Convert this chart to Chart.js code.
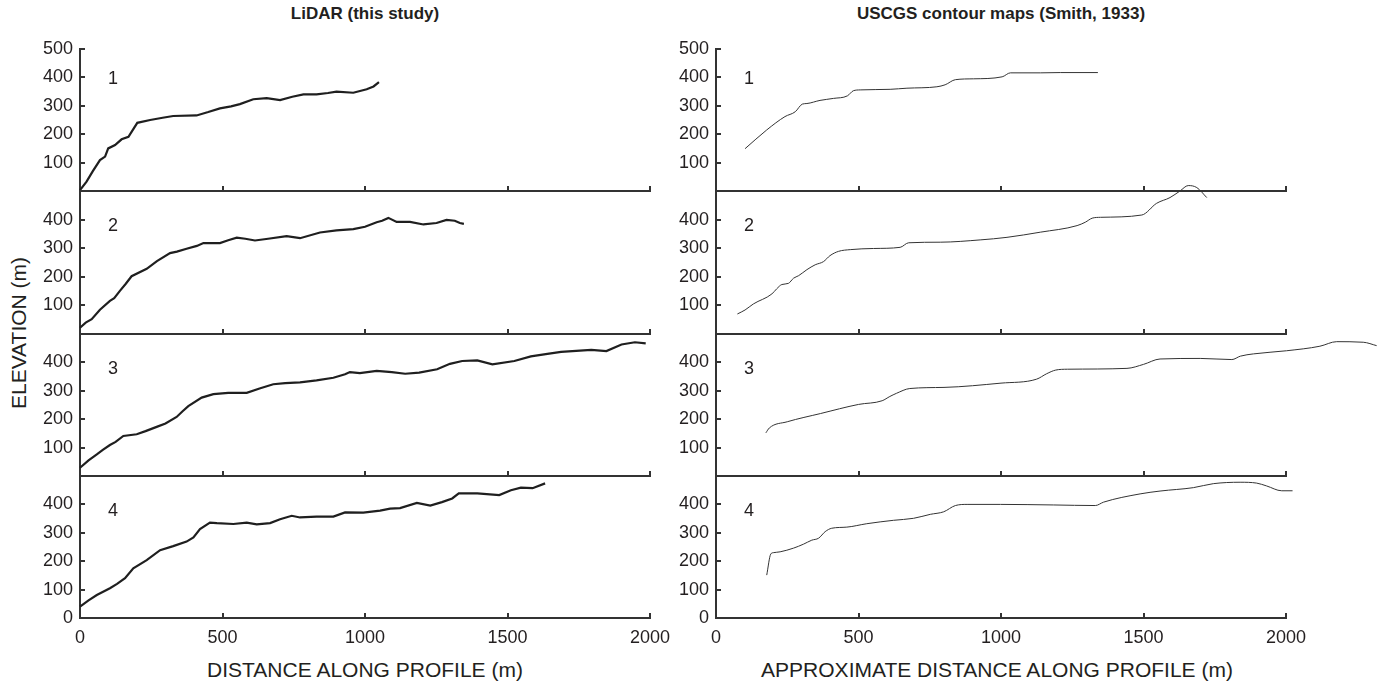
<!DOCTYPE html>
<html>
<head>
<meta charset="utf-8">
<script src="https://cdn.jsdelivr.net/npm/chart.js@4.4.0/dist/chart.umd.min.js"></script>
<style>
  html, body { margin: 0; padding: 0; background: #fff; }
  #wrap { position: relative; width: 1383px; height: 684px; overflow: hidden;
          font-family: "Liberation Sans", Arial, sans-serif; color: #231f20; }
  #wrap canvas { position: absolute; left: 0; top: 0; }
  .txt { position: absolute; white-space: nowrap; transform: translate(-50%, -50%); }
  .title { font-weight: bold; font-size: 17px; top: 14px; }
  .xtitle { font-size: 21px; top: 670px; }
  .ytitle { font-size: 21px; left: 19px; top: 333px; transform: translate(-50%, -50%) rotate(-90deg); }
</style>
</head>
<body>
<div id="wrap">
  <div class="txt title" style="left:365px">LiDAR (this study)</div>
  <div class="txt title" style="left:1001px">USCGS contour maps (Smith, 1933)</div>
  <div class="txt xtitle" style="left:365px">DISTANCE ALONG PROFILE (m)</div>
  <div class="txt xtitle" style="left:997px">APPROXIMATE DISTANCE ALONG PROFILE (m)</div>
  <div class="txt ytitle">ELEVATION (m)</div>
</div>
<script>
// Profile data (distance m, elevation m)
const lidar1Dist = [0, 23, 45, 70, 88, 99, 123, 146, 170, 201, 246, 290, 327, 409, 450, 491, 530, 561, 608, 655, 702, 745, 784, 830, 870, 900, 959, 1006, 1030, 1049];
const lidar1Elev = [3, 33, 70, 109, 121, 150, 162, 182, 191, 240, 250, 258, 264, 266, 278, 291, 298, 306, 323, 327, 320, 332, 340, 340, 345, 350, 346, 358, 368, 383];

const lidar2Dist = [0, 20, 41, 70, 105, 120, 140, 160, 181, 234, 270, 316, 340, 374, 410, 433, 491, 520, 550, 580, 614, 660, 725, 772, 842, 900, 959, 1000, 1041, 1060, 1082, 1111, 1158, 1205, 1251, 1286, 1315, 1333, 1347];
const lidar2Elev = [22, 40, 52, 85, 116, 125, 151, 175, 202, 228, 255, 283, 288, 298, 308, 318, 318, 328, 337, 333, 327, 333, 342, 335, 355, 362, 367, 375, 391, 396, 406, 392, 392, 383, 388, 399, 396, 388, 385];

const lidar3Dist = [0, 30, 59, 80, 105, 125, 152, 199, 230, 269, 300, 339, 360, 380, 427, 468, 520, 585, 630, 678, 720, 772, 830, 889, 930, 947, 982, 1041, 1094, 1141, 1190, 1253, 1298, 1341, 1394, 1447, 1524, 1582, 1640, 1688, 1794, 1847, 1900, 1947, 1985];
const lidar3Elev = [29, 55, 76, 92, 109, 120, 141, 147, 158, 173, 185, 208, 228, 246, 276, 288, 293, 293, 308, 323, 327, 330, 337, 346, 358, 366, 362, 370, 366, 360, 364, 376, 395, 405, 407, 393, 405, 421, 430, 437, 444, 440, 463, 471, 467];

const lidar4Dist = [0, 30, 59, 105, 130, 158, 187, 234, 281, 327, 374, 398, 421, 456, 480, 538, 585, 620, 667, 702, 743, 772, 830, 889, 930, 994, 1053, 1088, 1123, 1182, 1229, 1270, 1306, 1329, 1394, 1471, 1512, 1547, 1588, 1632];
const lidar4Elev = [40, 62, 81, 105, 120, 140, 175, 204, 239, 253, 269, 284, 313, 336, 334, 331, 336, 330, 334, 348, 360, 354, 357, 357, 372, 371, 378, 385, 387, 405, 396, 408, 421, 439, 439, 433, 450, 459, 457, 474];

const usgs1Dist = [102, 178, 242, 278, 303, 319, 365, 412, 461, 482, 506, 611, 670, 775, 804, 840, 904, 1004, 1033, 1138, 1208, 1340];
const usgs1Elev = [149, 215, 262, 279, 306, 308, 319, 326, 335, 353, 356, 358, 362, 367, 374, 392, 395, 402, 416, 416, 417, 417];

const usgs2Dist = [75, 102, 131, 196, 213, 231, 254, 272, 290, 319, 348, 377, 400, 430, 471, 553, 646, 676, 787, 927, 1021, 1138, 1267, 1296, 1320, 1349, 1494, 1546, 1593, 1628, 1657, 1687, 1722];
const usgs2Elev = [70, 84, 105, 140, 158, 173, 177, 195, 204, 225, 242, 253, 274, 289, 295, 299, 303, 319, 321, 329, 338, 356, 379, 391, 405, 408, 416, 457, 477, 500, 519, 512, 477];

const usgs3Dist = [175, 187, 250, 367, 500, 583, 610, 633, 680, 800, 1000, 1125, 1160, 1192, 1233, 1442, 1500, 1558, 1699, 1810, 1840, 1886, 2002, 2119, 2178, 2271, 2318];
const usgs3Elev = [152, 169, 191, 220, 252, 265, 280, 291, 308, 312, 327, 341, 360, 373, 376, 379, 393, 412, 414, 410, 422, 430, 441, 457, 473, 471, 459];

const usgs4Dist = [178, 192, 201, 225, 272, 307, 336, 360, 383, 406, 459, 529, 623, 693, 752, 799, 840, 881, 998, 1185, 1331, 1360, 1488, 1558, 1675, 1745, 1839, 1897, 1932, 1985, 2023];
const usgs4Elev = [151, 225, 230, 233, 246, 260, 274, 281, 304, 316, 320, 332, 344, 351, 365, 374, 396, 400, 400, 398, 396, 408, 437, 447, 459, 473, 478, 475, 465, 448, 448];

const lidarDist = [lidar1Dist, lidar2Dist, lidar3Dist, lidar4Dist];
const lidarElev = [lidar1Elev, lidar2Elev, lidar3Elev, lidar4Elev];
const usgsDist = [usgs1Dist, usgs2Dist, usgs3Dist, usgs4Dist];
const usgsElev = [usgs1Elev, usgs2Elev, usgs3Elev, usgs4Elev];
const panelLabels = ['1', '2', '3', '4'];

Chart.defaults.font.family = '"Liberation Sans", Arial, sans-serif';
Chart.defaults.color = '#231f20';

const W = 1383, H = 684;
const AXIS = '#333333';
const Y_W = 60, X_H = 40;

// panel number in the upper-left corner of each panel
const panelNumber = {
    id: 'panelNumber',
    afterDatasetsDraw(chart, args, opts) {
        const { ctx, chartArea } = chart;
        ctx.save();
        ctx.font = '18px "Liberation Sans", Arial, sans-serif';
        ctx.fillStyle = '#231f20';
        ctx.textAlign = 'center';
        ctx.textBaseline = 'middle';
        ctx.fillText(opts.text, chartArea.left + 33, chartArea.top + opts.dy);
        ctx.restore();
    }
};

function makePanel(col, row) {
    const wrap = document.getElementById('wrap');
    const canvas = document.createElement('canvas');
    canvas.width = W;
    canvas.height = H;
    wrap.appendChild(canvas);

    const axisLeft = col === 0 ? 80 : 716;
    const axisRight = axisLeft + 570;
    const top = Math.round(49 + row * 142.25);
    const bottom = Math.round(49 + (row + 1) * 142.25);
    const xs = col === 0 ? lidarDist[row] : usgsDist[row];
    const ys = col === 0 ? lidarElev[row] : usgsElev[row];

    return new Chart(canvas.getContext('2d'), {
        type: 'line',
        data: {
            datasets: [{
                data: xs.map((x, i) => ({ x: x, y: ys[i] })),
                borderColor: col === 0 ? '#1f1f1f' : '#333333',
                borderWidth: col === 0 ? 2.2 : 1,
                pointRadius: 0,
                tension: col === 0 ? 0 : 0.4,
                cubicInterpolationMode: col === 0 ? 'default' : 'monotone',
                clip: false
            }]
        },
        options: {
            responsive: false,
            animation: false,
            events: [],
            layout: {
                padding: { left: axisLeft - Y_W, right: W - axisRight, top: top, bottom: H - bottom - X_H }
            },
            plugins: {
                legend: { display: false },
                tooltip: { enabled: false },
                panelNumber: { text: panelLabels[row], dy: row === 0 ? 30 : 35 }
            },
            scales: {
                x: {
                    type: 'linear',
                    position: 'bottom',
                    afterDataLimits: s => { s.min = 0; s.max = 2000; },
                    afterFit: s => { s.height = X_H; },
                    ticks: {
                        stepSize: 500,
                        display: row === 3,
                        padding: 14,
                        font: { size: 18 },
                        maxRotation: 0,
                        callback: v => String(v)
                    },
                    grid: { drawOnChartArea: false, tickLength: -5, color: AXIS, lineWidth: 2 },
                    border: { display: true, color: AXIS, width: 2 }
                },
                y: {
                    min: 0,
                    max: 500,
                    afterFit: s => { s.width = Y_W; },
                    ticks: {
                        stepSize: 100,
                        padding: 12,
                        font: { size: 18 },
                        callback: v => ((v === 0 && row !== 3) || (v === 500 && row !== 0)) ? '' : String(v)
                    },
                    grid: { drawOnChartArea: false, tickLength: -5, color: AXIS, lineWidth: 2 },
                    border: { display: true, color: AXIS, width: 2 }
                }
            }
        },
        plugins: [panelNumber]
    });
}

for (let row = 0; row < 4; row++) {
    makePanel(0, row);
    makePanel(1, row);
}
</script>
</body>
</html>
